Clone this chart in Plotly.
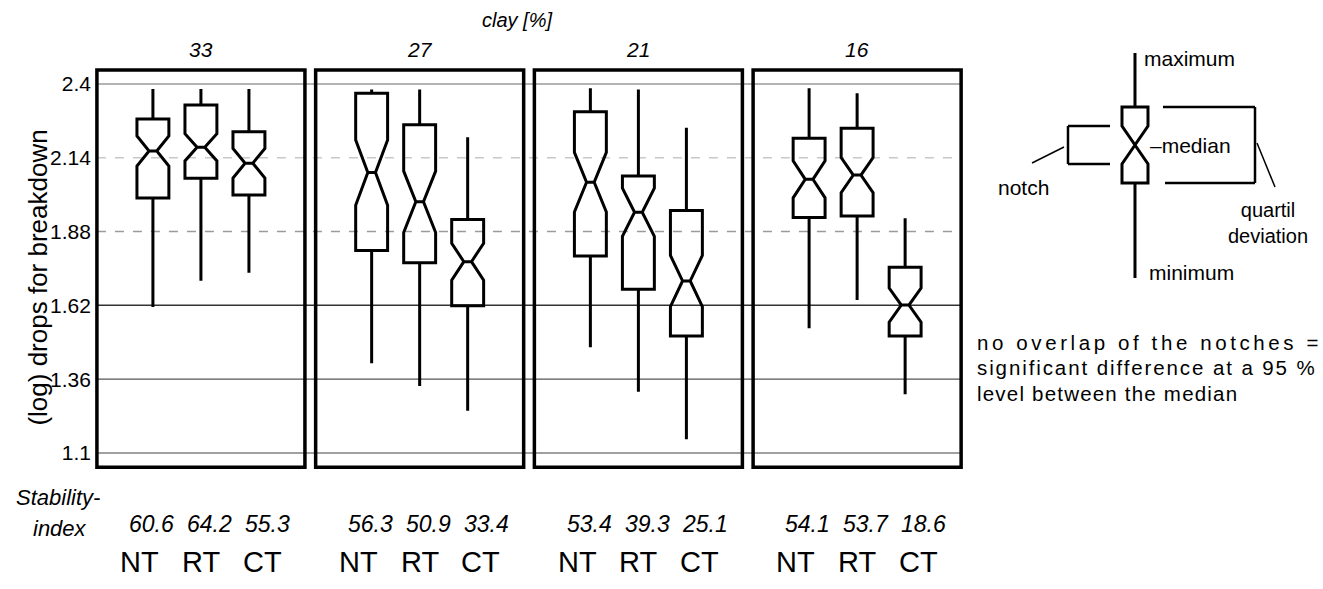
import plotly.graph_objects as go

# ---------------- data ----------------
CLAY = ["33", "27", "21", "16"]
TREATMENTS = ["NT", "RT", "CT"]
# rows = clay panel, cols = NT, RT, CT   (log drops for breakdown)
MAXIMUM = [[2.382, 2.382, 2.382], [2.381, 2.381, 2.212], [2.385, 2.381, 2.246], [2.385, 2.367, 1.927]]
Q3 = [[2.277, 2.326, 2.232], [2.367, 2.256, 1.923], [2.302, 2.076, 1.954], [2.209, 2.244, 1.754]]
MEDIAN = [[2.164, 2.177, 2.121], [2.088, 1.985, 1.774], [2.054, 1.948, 1.706], [2.064, 2.079, 1.621]]
Q1 = [[1.998, 2.068, 2.009], [1.813, 1.770, 1.619], [1.794, 1.677, 1.512], [1.930, 1.935, 1.512]]
MINIMUM = [[1.614, 1.707, 1.735], [1.416, 1.336, 1.249], [1.472, 1.316, 1.148], [1.539, 1.639, 1.307]]
NOTCH = [[0.053, 0.048, 0.052], [0.115, 0.108, 0.065], [0.105, 0.085, 0.090], [0.065, 0.062, 0.060]]
STABILITY = [["60.6", "64.2", "55.3"], ["56.3", "50.9", "33.4"],
             ["53.4", "39.3", "25.1"], ["54.1", "53.7", "18.6"]]
YTICKS = [1.1, 1.36, 1.62, 1.88, 2.14, 2.4]
YTICK_TEXT = ["1.1", "1.36", "1.62", "1.88", "2.14", "2.4"]

# schematic legend box (arbitrary units)
LEG_MIN, LEG_Q1, LEG_MED, LEG_Q3, LEG_MAX, LEG_NOTCH = 132, 227, 265, 303, 357, 19

# ---------------- layout constants ----------------
FONT = "Liberation Sans, Arial, Helvetica, sans-serif"
BOX_OFF = 0.2195
BOX_W = 0.146
PANEL_HALF = 0.4755
FRAME_Y = (1.050, 2.449)

xs, q1, med, q3, lo, hi, nsp = [], [], [], [], [], [], []
for p in range(len(CLAY)):
    for k in range(len(TREATMENTS)):
        xs.append(p + (k - 1) * BOX_OFF)
        q1.append(Q1[p][k]); med.append(MEDIAN[p][k]); q3.append(Q3[p][k])
        lo.append(MINIMUM[p][k]); hi.append(MAXIMUM[p][k]); nsp.append(NOTCH[p][k])

fig = go.Figure()
fig.add_trace(go.Box(
    x=xs, q1=q1, median=med, q3=q3, lowerfence=lo, upperfence=hi, notchspan=nsp,
    notched=True, notchwidth=0.38, width=BOX_W, whiskerwidth=0,
    line=dict(color="black", width=3), fillcolor="rgba(0,0,0,0)",
    boxpoints=False, hoverinfo="skip", showlegend=False, xaxis="x", yaxis="y"))

LEG_X = 1135
fig.add_trace(go.Box(
    x=[LEG_X], q1=[LEG_Q1], median=[LEG_MED], q3=[LEG_Q3], lowerfence=[LEG_MIN],
    upperfence=[LEG_MAX], notchspan=[LEG_NOTCH], notched=True, notchwidth=0.5,
    width=26, whiskerwidth=0, line=dict(color="black", width=3),
    fillcolor="rgba(0,0,0,0)", boxpoints=False, hoverinfo="skip",
    showlegend=False, xaxis="x2", yaxis="y2"))

shapes = []
grid_style = {
    2.4: dict(color="#9a9a9a", width=1.5, dash="solid"),
    2.14: dict(color="#c8c8c8", width=1.5, dash="dash"),
    1.88: dict(color="#9a9a9a", width=1.5, dash="dash"),
    1.62: dict(color="#333333", width=1.5, dash="solid"),
    1.36: dict(color="#555555", width=1.3, dash="solid"),
    1.1: dict(color="#808080", width=1.5, dash="solid"),
}
for t in YTICKS:
    shapes.append(dict(type="line", xref="x", yref="y", x0=-PANEL_HALF, x1=3 + PANEL_HALF,
                       y0=t, y1=t, line=grid_style[t], layer="below"))
for p in range(len(CLAY)):
    shapes.append(dict(type="rect", xref="x", yref="y", x0=p - PANEL_HALF, x1=p + PANEL_HALF,
                       y0=FRAME_Y[0], y1=FRAME_Y[1], line=dict(color="black", width=3.5)))

# legend brackets
lw = dict(color="black", width=2.5)
for yy in (LEG_MED + LEG_NOTCH, LEG_MED - LEG_NOTCH):
    shapes.append(dict(type="line", xref="x2", yref="y2", x0=1068, x1=1110, y0=yy, y1=yy, line=lw))
shapes.append(dict(type="line", xref="x2", yref="y2", x0=1068, x1=1068,
                   y0=LEG_MED - LEG_NOTCH, y1=LEG_MED + LEG_NOTCH, line=lw))
shapes.append(dict(type="line", xref="x2", yref="y2", x0=1064, x1=1032, y0=LEG_MED - 2, y1=LEG_MED - 18,
                   line=dict(color="black", width=1.5)))
shapes.append(dict(type="line", xref="x2", yref="y2", x0=1163, x1=1255, y0=LEG_Q3, y1=LEG_Q3, line=lw))
shapes.append(dict(type="line", xref="x2", yref="y2", x0=1165, x1=1255, y0=LEG_Q1, y1=LEG_Q1, line=lw))
shapes.append(dict(type="line", xref="x2", yref="y2", x0=1255, x1=1255, y0=LEG_Q1, y1=LEG_Q3, line=lw))
shapes.append(dict(type="line", xref="x2", yref="y2", x0=1257, x1=1275, y0=LEG_MED + 2, y1=LEG_MED - 42,
                   line=dict(color="black", width=1.5)))

ann = []
def txt(x, y, s, size, xref="paper", yref="paper", italic=False, xanchor="center", angle=0):
    ann.append(dict(x=x, y=y, xref=xref, yref=yref, text=s, showarrow=False,
                    xanchor=xanchor, yanchor="middle", textangle=angle,
                    font=dict(family=FONT, size=size, color="#000",
                              style="italic" if italic else "normal")))

# y title
txt(-0.042, 0.42, "(log) drops for breakdown", 26, angle=-90)
# header
txt(1.445, 0.978, "clay [%]", 20, xref="x", italic=True)
for p, c in enumerate(CLAY):
    txt(p, 0.915, c, 21, xref="x", italic=True)
# bottom
txt((58 - 90) / 1233, -0.058, "Stability-", 22, italic=True)
txt((60 - 90) / 1233, -0.125, "index", 22, italic=True)
for p in range(len(CLAY)):
    for k in range(len(TREATMENTS)):
        txt(p + 0.04 + (k - 1) * 0.265, -0.116, STABILITY[p][k], 23, xref="x", italic=True)
        txt(p + (k - 1) * 0.28, -0.197, TREATMENTS[k], 29, xref="x")

# legend labels
txt(1190, LEG_MAX - 5, "maximum", 21, xref="x2", yref="y2")
txt(1148, LEG_MED, "\u2013median", 21, xref="x2", yref="y2", xanchor="left")
txt(1192, LEG_MIN + 6, "minimum", 21, xref="x2", yref="y2")
txt(1024, LEG_MED - 42, "notch", 21, xref="x2", yref="y2")
txt(1268, LEG_MED - 78, "quartil<br>deviation", 20, xref="x2", yref="y2")

NOTE = ["no overlap of the notches =", "significant difference at a 95 %", "level between the median"]
NOTE_SP = [3.6, 1.9, 1.2]
for i, (line, sp) in enumerate(zip(NOTE, NOTE_SP)):
    txt(975, 68 - i * 25.5, '<span style="letter-spacing:%.1fpx">%s</span>' % (sp, line), 20.5,
        xref="x2", yref="y2", xanchor="left")

fig.update_layout(
    width=1323, height=589,
    margin=dict(l=90, r=0, t=10, b=118, autoexpand=False),
    paper_bgcolor="white", plot_bgcolor="rgba(0,0,0,0)",
    showlegend=False,
    xaxis=dict(domain=[0.00162, 0.7105], range=[-0.498, 3.498], visible=False, fixedrange=True),
    yaxis=dict(domain=[0, 0.8785], range=[1.0364, 2.4634], tickvals=YTICKS, ticktext=YTICK_TEXT,
               showgrid=False, zeroline=False, showline=False, ticks="", automargin=False,
               tickfont=dict(family=FONT, size=21, color="#000"), anchor="x"),
    xaxis2=dict(domain=[0.7137, 1.0], range=[970, 1323], visible=False, anchor="y2"),
    yaxis2=dict(domain=[0.1323, 0.9566], range=[0, 380], visible=False, anchor="x2"),
    shapes=shapes, annotations=ann,
)
fig.write_html("out.html", config={"displayModeBar": False})
